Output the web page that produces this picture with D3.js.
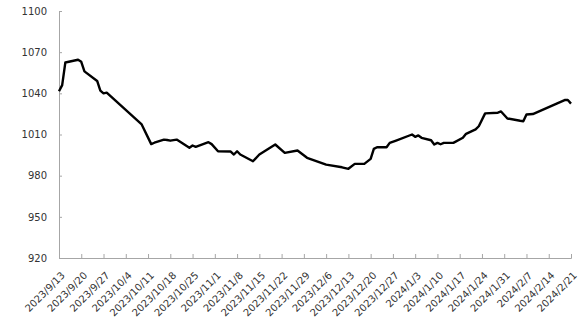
<!DOCTYPE html>
<html>
<head>
<meta charset="utf-8">
<script src="https://cdn.jsdelivr.net/npm/d3@7"></script>
<style>
  body { margin: 0; background: #fff; }
  svg { display: block; }
  .tick text { font-family: "DejaVu Sans", sans-serif; font-size: 10px; fill: #333; }
</style>
</head>
<body>
<div class="grafico"></div>
<script>
const width = 584, height = 320;
const margin = { top: 11, right: 13, bottom: 62, left: 59 };

// series dates and values
const dates = [
  "2023-09-13", "2023-09-14", "2023-09-15", "2023-09-19", "2023-09-20", "2023-09-21",
  "2023-09-25", "2023-09-26", "2023-09-27", "2023-09-28", "2023-10-09", "2023-10-12",
  "2023-10-13", "2023-10-16", "2023-10-17", "2023-10-18", "2023-10-20", "2023-10-24",
  "2023-10-25", "2023-10-26", "2023-10-30", "2023-10-31", "2023-11-02", "2023-11-06",
  "2023-11-07", "2023-11-08", "2023-11-09", "2023-11-13", "2023-11-15", "2023-11-20",
  "2023-11-23", "2023-11-27", "2023-11-30", "2023-12-06", "2023-12-11", "2023-12-13",
  "2023-12-15", "2023-12-18", "2023-12-20", "2023-12-21", "2023-12-22", "2023-12-25",
  "2023-12-26", "2023-12-28", "2024-01-02", "2024-01-03", "2024-01-04", "2024-01-05",
  "2024-01-08", "2024-01-09", "2024-01-10", "2024-01-11", "2024-01-12", "2024-01-15",
  "2024-01-18", "2024-01-19", "2024-01-22", "2024-01-23", "2024-01-25", "2024-01-29",
  "2024-01-30", "2024-02-01", "2024-02-05", "2024-02-06", "2024-02-07", "2024-02-09",
  "2024-02-19", "2024-02-20", "2024-02-21"
];
const values = [
  1041.5, 1046, 1062.5, 1064.5, 1063, 1056,
  1049, 1042, 1040, 1040.5, 1017.3, 1003,
  1004, 1006.3, 1006, 1005.5, 1006.3, 1000.3,
  1002, 1001, 1004.4, 1003, 997.8, 997.6,
  995.4, 997.8, 995.4, 990.5, 995.4, 1002.7,
  996.6, 998.3, 993, 988, 986.1, 985,
  988.6, 988.6, 992.2, 999.5, 1000.7, 1000.7,
  1003.9, 1005.6, 1010, 1008.3, 1009.3, 1007.6,
  1005.8, 1002.7, 1003.9, 1002.9, 1003.9, 1003.9,
  1007.6, 1010.5, 1013.7, 1016, 1025.4, 1025.9,
  1026.8, 1021.7, 1020, 1019.7, 1024.6, 1024.9,
  1035.1, 1035.1, 1032.5
];
const yTicks = [920, 950, 980, 1010, 1040, 1070, 1100];

const parse = d3.timeParse("%Y-%m-%d");
const datos = dates.map((d, i) => ({ date: parse(d), value: values[i] }));
const start = parse(dates[0]);
const end = parse(dates[dates.length - 1]);
const xTicks = d3.timeDay.range(start, d3.timeDay.offset(end, 1), 7);

const svg = d3.select(".grafico")
  .append("svg")
  .attr("width", width)
  .attr("height", height);

const x = d3.scaleTime()
  .domain([start, end])
  .range([margin.left, width - margin.right]);

const y = d3.scaleLinear()
  .domain([920, 1100])
  .range([height - margin.bottom, margin.top]);

// y axis, ticks pointing inward
const yAxis = svg.append("g")
  .attr("transform", `translate(${margin.left},0)`)
  .call(d3.axisLeft(y).tickValues(yTicks).tickSize(-3).tickPadding(12).tickFormat(d3.format("d")));

// x axis
const fmt = d3.timeFormat("%Y/%-m/%-d");
const xAxis = svg.append("g")
  .attr("transform", `translate(0,${height - margin.bottom})`)
  .call(d3.axisBottom(x).tickValues(xTicks).tickSize(-4).tickFormat(fmt));

xAxis.selectAll("text")
  .attr("text-anchor", "end")
  .attr("dy", null)
  .attr("y", 0)
  .attr("transform", "translate(4,16) rotate(-45)")
  .attr("dominant-baseline", "middle");

svg.selectAll(".domain, .tick line")
  .attr("stroke", "#a6a6a6");

const line = d3.line()
  .x(d => x(d.date))
  .y(d => y(d.value));

svg.append("path")
  .datum(datos)
  .attr("fill", "none")
  .attr("stroke", "#000")
  .attr("stroke-width", 2.4)
  .attr("stroke-linejoin", "round")
  .attr("d", line);
</script>
</body>
</html>
